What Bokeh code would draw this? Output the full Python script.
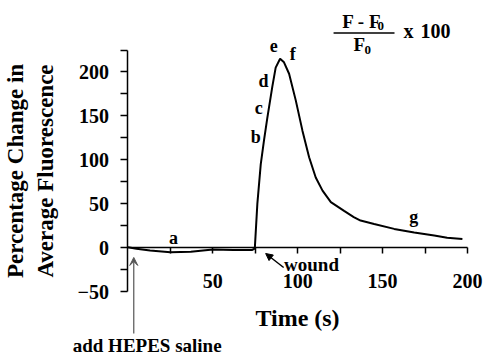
from bokeh.plotting import figure
from bokeh.models import Label, Arrow, NormalHead, VeeHead, FixedTicker, Range1d
from bokeh.embed import file_html
from bokeh.resources import INLINE

# data
time_s = [0, 5, 13, 25, 37, 50, 62, 73, 74.7, 76.2, 78.2, 80.1, 82.1, 85, 87, 89.6,
          91.9, 94.9, 98.8, 102.8, 106.7, 110.6, 114.6, 119.5, 127.3, 133, 137, 145,
          156.8, 168.6, 180.4, 188, 197]
pct_change = [0.5, -1, -3, -5, -4.5, -2, -2.5, -2.5, -1, 50, 95, 122, 148, 183, 205, 215,
              211, 198, 168, 133, 103, 80, 65, 52, 42, 35, 31, 27,
              21.5, 17.5, 14, 11.5, 10]
x_major = [50, 100, 150, 200]
x_minor = [25, 75, 125, 175]
y_major = [-50, 0, 50, 100, 150, 200]
y_minor = [-25, 25, 75, 125, 175, 225]
point_labels = ["a", "b", "c", "d", "e", "f", "g"]
point_x = [26.8, 75.2, 77, 79.9, 85.8, 97, 168.4]
point_y = [10.6, 125.5, 159.5, 190, 230, 221, 34.5]

FONT = "Liberation Serif"

p = figure(width=483, height=355, x_range=Range1d(-75.11, 209.43), y_range=Range1d(-122.53, 281.34),
           output_backend="svg", toolbar_location=None, min_border=0,
           min_border_left=0, min_border_right=0, min_border_top=0, min_border_bottom=0)
p.outline_line_color = None
p.grid.visible = False
p.background_fill_color = "white"
p.border_fill_color = "white"

p.line(time_s, pct_change, line_width=2, color="black")

# axes
xa = p.xaxis[0]
xa.fixed_location = 0
xa.bounds = (0, 200)
xa.ticker = FixedTicker(ticks=x_major, minor_ticks=x_minor)
ya = p.yaxis[0]
ya.fixed_location = 0
ya.bounds = (-50, 225)
ya.ticker = FixedTicker(ticks=y_major, minor_ticks=y_minor)
for ax in (xa, ya):
    ax.axis_line_width = 1.5
    ax.axis_line_color = "black"
    ax.major_tick_line_color = "black"
    ax.minor_tick_line_color = "black"
    ax.major_tick_line_width = 1.5
    ax.minor_tick_line_width = 1.5
    ax.major_tick_in = 0
    ax.minor_tick_in = 0
    ax.major_label_text_font = FONT
    ax.major_label_text_font_style = "bold"
    ax.major_label_text_font_size = "20px"
    ax.major_label_text_color = "black"
    ax.axis_label_text_font = FONT
    ax.axis_label_text_font_style = "bold"
    ax.axis_label_text_color = "black"
    ax.axis_label_text_font_size = "23px"
xa.major_tick_out = 6
xa.minor_tick_out = 6
ya.major_tick_out = 7
ya.minor_tick_out = 7
xa.major_label_standoff = 20
xa.axis_label = "Time (s)"
xa.axis_label_text_font_size = "24px"
xa.axis_label_standoff = 14
ya.major_label_standoff = 12
ya.axis_label = "Percentage Change in\nAverage Fluorescence"
ya.axis_label_standoff = 16
ya.axis_label_text_line_height = 1.2

# point letters
for s, x, y in zip(point_labels, point_x, point_y):
    p.add_layout(Label(x=x, y=y, text=s, text_font=FONT, text_font_style="bold",
                       text_font_size="18px", text_align="center", text_baseline="middle",
                       text_color="black"))

# formula
def lab(x, y, s, size="19px"):
    p.add_layout(Label(x=x, y=y, text=s, text_font=FONT, text_font_style="bold",
                       text_font_size=size, text_align="left", text_baseline="middle",
                       text_color="black"))

lab(126.2, 256.9, "F - F")
lab(147.0, 251.8, "0", "13px")
lab(132.8, 231.3, "F")
lab(139.3, 224.5, "0", "13px")
lab(162.3, 246.6, "x", "20px")
lab(172.3, 246.6, "100", "20px")
p.add_layout(Arrow(x_start=121.1, y_start=244.4, x_end=157.0, y_end=244.4, start=None, end=None,
                   line_width=1.5, line_color="black"))

# annotations
p.add_layout(Label(x=108.1, y=-19, text="wound", text_font=FONT, text_font_style="bold",
                   text_font_size="19px", text_align="center", text_baseline="middle",
                   text_color="black"))
p.add_layout(Arrow(x_start=91.7, y_start=-22.4, x_end=81.1, y_end=-6.5,
                   end=NormalHead(size=7, fill_color="black", line_color="black"),
                   line_width=1.5, line_color="black"))
p.add_layout(Label(x=11.3, y=-111, text="add HEPES saline", text_font=FONT,
                   text_font_style="bold", text_font_size="19px",
                   text_align="center", text_baseline="middle", text_color="black"))
p.add_layout(Arrow(x_start=3.4, y_start=-97.5, x_end=3.4, y_end=-11,
                   end=VeeHead(size=8, fill_color="#555555", line_color="#555555"),
                   line_width=1.2, line_color="#555555"))

open("out.html", "w").write(file_html(p, INLINE))
